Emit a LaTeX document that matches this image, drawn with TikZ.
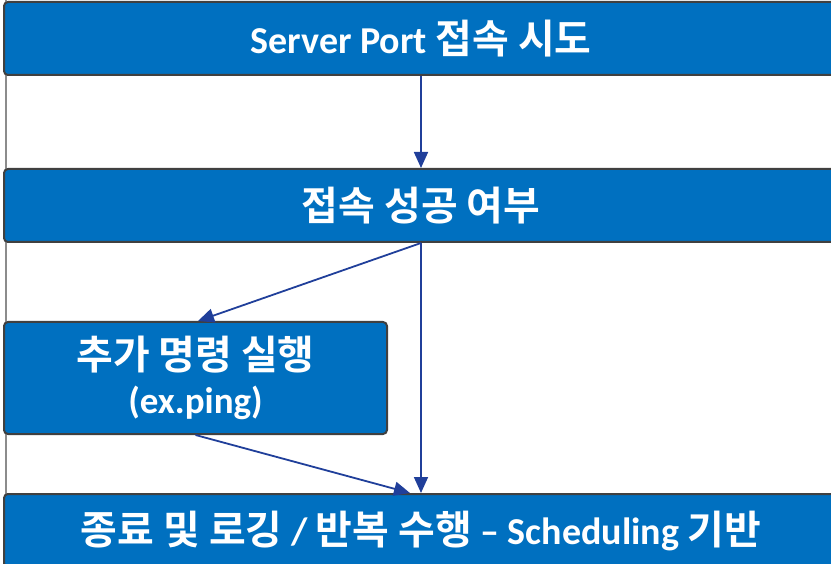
\documentclass[tikz,border=0pt]{standalone}
\usepackage{fontspec}
\setmainfont{Carlito}
\newfontfamily\krfont{Noto Sans CJK KR}[BoldFont={Noto Sans CJK KR Bold}, Scale=1.05]
\newcommand{\kr}[1]{{\krfont\bfseries #1}}
\usetikzlibrary{arrows.meta,positioning}
\definecolor{boxblue}{HTML}{0070C0}
\definecolor{boxline}{HTML}{404040}
\definecolor{arrowblue}{HTML}{203F9A}

\begin{document}
\begin{tikzpicture}[x=1pt, y=-1pt, ->, >={Triangle[length=16pt,width=14pt]}, line width=1.8pt, node distance=92pt]
\tikzstyle{stage}=[rectangle, rounded corners=4pt, draw=boxline, line width=2pt, fill=boxblue, text=white, font=\bfseries\fontsize{38}{42}\selectfont, minimum width=834pt, minimum height=73pt, inner sep=0pt, align=center]
\useasboundingbox (0,0) rectangle (831,564);
\clip (0,0) rectangle (831,564);
\draw[-, gray!90, line width=1.5pt] (6,0) -- (6,564);
\node[stage]    (try)      at (421,38.5)    {Server Port \kr{접속 시도}};
\node[stage]    (check)    [below=of try]   {\kr{접속 성공 여부}};
\node[stage, minimum width=383pt, minimum height=112pt]  (extra) at (195.5,378)
    {\kr{추가 명령 실행}\\[2pt]{\fontsize{37}{40}\selectfont(ex.ping)}};
\node[stage]    (done)     at (421,530.5)
    {\kr{종료 및 로깅} / \kr{반복 수행} -- Scheduling \kr{기반}};
\path[color=arrowblue]
(try.south)     edge    (check.north)
(check.south)   edge    ([xshift=2.5pt]extra.north)
                edge    (done.north)
(extra.south)   edge    ([xshift=-11pt]done.north);
\end{tikzpicture}
\end{document}
